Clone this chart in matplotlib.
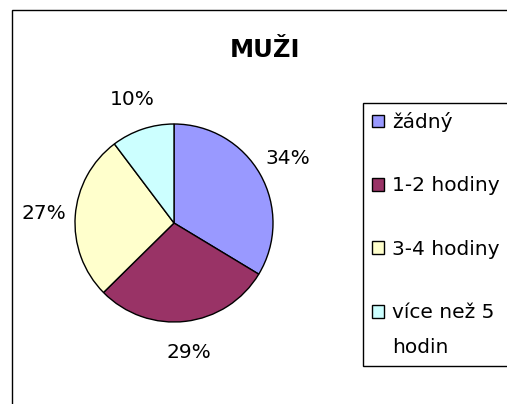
import matplotlib
matplotlib.use("Agg")
import matplotlib.pyplot as plt
from matplotlib.patches import Rectangle
import numpy as np

plt.rcParams['font.family'] = ['DejaVu Sans']

# data (counts; labels show rounded shares)
labels = ["žádný", "1-2 hodiny", "3-4 hodiny", "více než 5\nhodin"]
values = [36, 31, 29, 11]
colors = ["#9999FF", "#993366", "#FFFFCC", "#CCFFFF"]
title = "MUŽI"

W, H = 507, 404
fig = plt.figure(figsize=(W / 100, H / 100), dpi=100)

# outer chart border (right and bottom run off the picture)
fig.patches.append(Rectangle((12 / W, -0.1), 1.2, 1.1 - 10 / H,
                             transform=fig.transFigure, fill=False,
                             edgecolor="black", linewidth=1.0))

cx, cy, r = 174, 223, 99
ax = fig.add_axes([(cx - r) / W, 1 - (cy + r) / H, 2 * r / W, 2 * r / H])
wedges, texts, autotexts = ax.pie(values, colors=colors, startangle=90,
                                  counterclock=False, autopct="%1.0f%%",
                                  pctdistance=1.32,
                                  wedgeprops=dict(edgecolor="black", linewidth=1.0),
                                  textprops=dict(fontsize=14.5))
ax.set_xlim(-1, 1)
ax.set_ylim(-1, 1)
ax.set_aspect("equal")
ax.axis("off")

fig.text(265 / W, 1 - 50 / H, title, ha="center", va="center",
         fontsize=17.5, fontweight="bold")

leg = fig.legend(wedges, labels, loc="upper left",
                 bbox_to_anchor=(363 / W, 1 - 365 / H, 0.4, 262 / H),
                 mode="expand", fontsize=14.5,
                 frameon=True, fancybox=False, edgecolor="black",
                 framealpha=1, handlelength=0.6, handleheight=0.6,
                 handletextpad=0.4, labelspacing=2.2, borderpad=0.45,
                 borderaxespad=0)
leg.get_frame().set_linewidth(1.0)
for h in leg.legend_handles:
    h.set_edgecolor("black")
    h.set_linewidth(1.0)
# two-line entry: wider line gap, box next to the first line
leg.get_texts()[3].set_linespacing(2.05)
last = leg.legend_handles[3]
last.set_y(last.get_y() + 13.5)

fig.savefig("out.png", dpi=100)
